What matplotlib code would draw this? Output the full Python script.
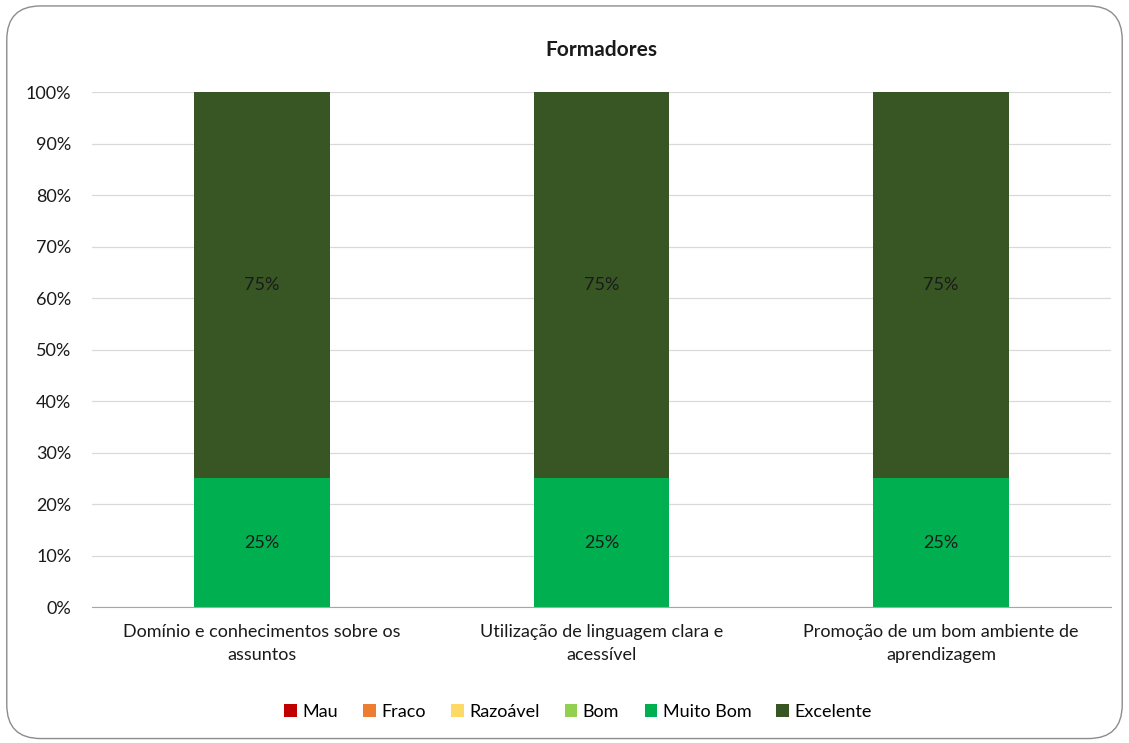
import numpy as np
import matplotlib.pyplot as plt
from matplotlib.patches import FancyBboxPatch, Patch

categories = [
    "Domínio e conhecimentos sobre os\nassuntos",
    "Utilização de linguagem clara e\nacessível",
    "Promoção de um bom ambiente de\naprendizagem",
]
series_names = ["Mau", "Fraco", "Razoável", "Bom", "Muito Bom", "Excelente"]
mau = [0, 0, 0]
fraco = [0, 0, 0]
razoavel = [0, 0, 0]
bom = [0, 0, 0]
muito_bom = [25, 25, 25]
excelente = [75, 75, 75]
colors = ["#C00000", "#ED7D31", "#FFD966", "#92D050", "#00B050", "#375623"]
yticks = [0, 10, 20, 30, 40, 50, 60, 70, 80, 90, 100]

plt.rcParams["font.family"] = ["Lato", "DejaVu Sans"]
fs = 13

fig = plt.figure(figsize=(11.29, 7.43), dpi=100)
border = FancyBboxPatch(
    (0.006, 0.006), 0.988, 0.986,
    boxstyle="round,pad=0,rounding_size=0.03",
    transform=fig.transFigure, facecolor="white", edgecolor="#8C8C8C",
    linewidth=1.0, mutation_aspect=1129 / 743, zorder=-10,
)
fig.add_artist(border)

ax = fig.add_axes([0.0815, 0.183, 0.9025, 0.693])
ax.set_facecolor("none")

x = np.arange(len(categories))
series = [mau, fraco, razoavel, bom, muito_bom, excelente]
bottom = np.zeros(len(categories))
for name, vals, col in zip(series_names, series, colors):
    vals = np.array(vals, dtype=float)
    ax.bar(x, vals, 0.4, bottom=bottom, color=col, label=name, zorder=3)
    for xi, v, b in zip(x, vals, bottom):
        if v > 0:
            ax.text(xi, b + v / 2, f"{v:.0f}%", ha="center", va="center",
                    fontsize=fs, color="#1a1a1a", zorder=4)
    bottom += vals

ax.set_xlim(-0.5, 2.5)
ax.set_ylim(0, 100)
ax.set_yticks(yticks)
ax.set_yticklabels([f"{t}%" for t in yticks], fontsize=fs, color="#1a1a1a")
ax.set_xticks(x)
ax.set_xticklabels(categories, fontsize=fs, color="#1a1a1a",
                   linespacing=1.55, multialignment="center")
ax.tick_params(axis="y", length=0, pad=15)
ax.tick_params(axis="x", length=0, pad=12)
ax.grid(axis="y", color="#D9D9D9", linewidth=0.9, zorder=0)
for s in ["top", "right", "left"]:
    ax.spines[s].set_visible(False)
ax.spines["bottom"].set_color("#A6A6A6")
ax.spines["bottom"].set_zorder(5)

ax.set_title("Formadores", fontsize=15, fontweight="bold", color="#1a1a1a", pad=26)

handles = [Patch(facecolor=c, label=n) for n, c in zip(series_names, colors)]
fig.legend(handles=handles, loc="center", bbox_to_anchor=(0.512, 0.042), ncol=6,
           frameon=False, fontsize=fs, handlelength=0.7, handleheight=0.7,
           handletextpad=0.3, columnspacing=1.4)

fig.savefig("out.png", dpi=100)
